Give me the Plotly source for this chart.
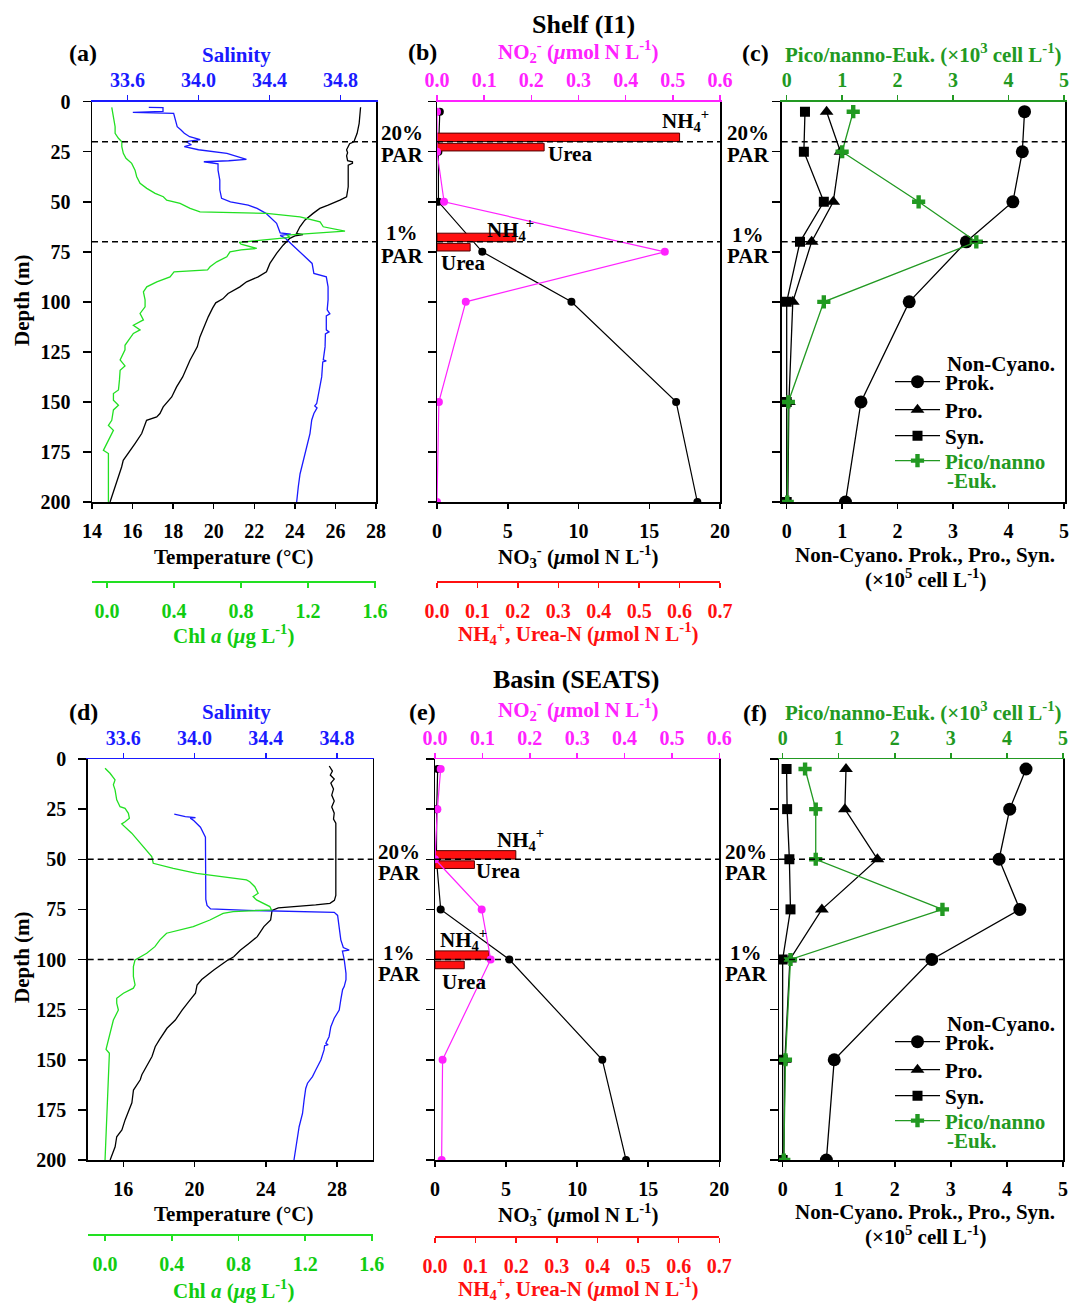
import plotly.graph_objects as go

# ===================== DATA =====================
# ---- Shelf (I1) CTD profiles ----
shelf_temp_depth = [2.8, 10.8, 15.8, 19, 20, 21, 22.5, 24, 25.5, 27, 29.5, 30, 30.8, 31.7, 36, 42.5, 47.5, 49.2,
                    51.7, 53.3, 55.8, 59.2, 62.5, 65.8, 66.4, 67, 68.3, 71.7, 75.8, 80.8, 85, 87.5, 90, 92.5, 95.8,
                    98.5, 100.5, 103, 107.5, 112.5, 117.5, 122.5, 129.2, 137.5, 142.5, 147.5, 152.5, 155.8, 157.5,
                    159.2, 162.5, 165.8, 170.8, 175.8, 179.2, 182.5, 187.5, 192.5, 197.5, 200]
shelf_temp = [27.24, 27.17, 27.07, 26.95, 26.91, 26.70, 26.63, 26.55, 26.60, 26.55, 26.60, 26.84, 26.84, 26.63,
              26.63, 26.63, 26.55, 26.22, 25.64, 25.23, 24.90, 24.49, 24.25, 24.08, 24.40, 24.00, 23.75, 23.42,
              23.10, 22.77, 22.60, 22.19, 21.62, 21.29, 20.71, 20.45, 20.10, 19.95, 19.73, 19.52, 19.32, 19.19,
              18.83, 18.47, 18.17, 17.93, 17.51, 17.35, 17.19, 16.69, 16.56, 16.45, 16.12, 15.79, 15.54, 15.46,
              15.30, 15.13, 14.97, 14.89]

shelf_sal_depth = [2.8, 3.0, 4.8, 5.3, 5.8, 9.2, 12.5, 14, 15.8, 17.5, 19, 20, 21.5, 22.5, 24, 25.8, 27.5, 28.8,
                   29.5, 30, 31, 34.2, 39.2, 44, 48.3, 50, 51.7, 53.3, 55.8, 57.5, 60.8, 65.5, 66.2, 66.8, 68.3,
                   70.8, 73.3, 77.5, 80.8, 85.8, 87.5, 92.5, 99, 104, 106, 107, 114, 115, 116, 122.5, 129, 129.5,
                   130, 137.5, 144, 150.8, 152, 153, 155.8, 159, 165.8, 172.5, 179, 186, 192.5, 200]
shelf_sal = [33.72, 33.80, 33.80, 33.63, 33.86, 33.87, 33.88, 33.90, 33.92, 33.95, 34.01, 33.93, 33.96, 33.92,
             34.00, 34.16, 34.22, 34.27, 34.17, 34.03, 34.11, 34.11, 34.12, 34.12, 34.13, 34.18, 34.28, 34.33,
             34.38, 34.40, 34.44, 34.46, 34.52, 34.46, 34.49, 34.52, 34.55, 34.60, 34.64, 34.65, 34.72, 34.73,
             34.73, 34.725, 34.74, 34.72, 34.72, 34.735, 34.715, 34.713, 34.703, 34.72, 34.70, 34.694, 34.681,
             34.666, 34.655, 34.668, 34.65, 34.638, 34.628, 34.609, 34.59, 34.572, 34.562, 34.553]

shelf_chl_depth = [2.8, 5.8, 9.2, 12.5, 15.8, 18.3, 20, 22.5, 25.8, 28.3, 30.8, 34.2, 37.5, 40.8, 43.3, 45.8, 47.5,
                   49.2, 50.8, 53.3, 55, 55.8, 57.5, 60, 62.5, 64.7, 66.7, 67.8, 70.3, 71.2, 73.3, 74, 75, 77.5, 80,
                   82.5, 84, 85, 87.5, 90, 92.5, 95, 99, 102.5, 105.8, 109, 111.7, 114, 115.8, 119, 121.7, 124, 127,
                   129, 132, 134.2, 139, 144, 145.8, 149.2, 151.7, 154, 159.2, 161.7, 164.2, 169.2, 174.2, 175.8, 200]
shelf_chl = [0.028, 0.034, 0.038, 0.048, 0.048, 0.068, 0.088, 0.088, 0.097, 0.113, 0.147, 0.167, 0.177, 0.197,
             0.237, 0.287, 0.336, 0.356, 0.436, 0.496, 0.555, 0.953, 1.152, 1.272, 1.291, 1.421, 1.073, 1.093, 0.79,
             0.80, 0.894, 0.80, 0.734, 0.715, 0.655, 0.615, 0.60, 0.40, 0.376, 0.297, 0.237, 0.217, 0.227, 0.227,
             0.197, 0.217, 0.157, 0.197, 0.157, 0.127, 0.107, 0.107, 0.088, 0.078, 0.107, 0.078, 0.074, 0.068,
             0.038, 0.038, 0.068, 0.038, 0.028, 0.008, 0.038, 0.008, -0.022, 0.008, 0.008]

# ---- Basin (SEATS) CTD profiles ----
basin_temp_depth = [3.5, 6, 8, 10, 12, 15, 18, 21, 24, 27, 30, 32, 40, 50, 60, 68, 70.5, 72, 72.8, 73.6, 74.3, 75.5,
                    80.3, 83.6, 88.6, 92, 95.3, 98.6, 100.5, 105.2, 110, 112.7, 116.8, 120, 125.2, 130.2, 134.3,
                    140, 143.5, 148.4, 153.4, 157.5, 160, 163.5, 165.1, 171.5, 177.6, 180, 185, 188.4, 193.4, 200]
basin_temp = [27.56, 27.74, 27.62, 27.84, 27.65, 27.80, 27.70, 27.84, 27.70, 27.84, 27.80, 27.93, 27.93, 27.93,
              27.93, 27.93, 27.85, 27.60, 26.80, 25.50, 24.70, 24.35, 24.27, 23.89, 23.52, 23.05, 22.58, 22.20,
              21.83, 21.08, 20.40, 20.14, 20.05, 19.76, 19.30, 18.92, 18.45, 18.03, 17.79, 17.61, 17.32, 17.04,
              16.95, 16.66, 16.57, 16.48, 16.20, 16.10, 15.92, 15.63, 15.54, 15.26]

basin_sal_depth = [27.5, 28.7, 29.2, 29.5, 30.7, 34, 39, 50, 60, 70, 73, 74.8, 75.5, 76, 76.5, 78, 83.6, 90.2, 94,
                   95.3, 95.8, 100, 106.9, 110, 113.5, 115, 120, 125.2, 129.3, 133.5, 138.5, 141.8, 142.5, 143,
                   145.1, 150.1, 155, 158.4, 161.7, 164.3, 170, 176.8, 183.4, 188.4, 193.4, 200]
basin_sal = [33.886, 33.948, 34.005, 33.976, 33.995, 34.033, 34.061, 34.061, 34.061, 34.063, 34.07, 34.09, 34.30,
             34.60, 34.784, 34.803, 34.812, 34.821, 34.835, 34.868, 34.83, 34.84, 34.85, 34.85, 34.84, 34.831,
             34.821, 34.812, 34.784, 34.765, 34.755, 34.737, 34.75, 34.73, 34.727, 34.709, 34.681, 34.662, 34.634,
             34.624, 34.615, 34.606, 34.587, 34.577, 34.568, 34.558]

basin_chl_depth = [4.6, 7.1, 10.4, 12.9, 15.4, 20.4, 23.8, 24.6, 27.1, 29.6, 31.3, 32.4, 37, 43.7, 48.7, 52, 54.5,
                   57, 60.3, 61.2, 63.7, 67, 68.6, 70.3, 73.6, 75.3, 76.1, 77, 80.3, 83.6, 86.9, 90.2, 93.6, 96.9,
                   100.2, 103.5, 108.5, 112.7, 114.3, 116.8, 119.3, 121.8, 125.2, 130.2, 136.8, 143.5, 144.8,
                   146.8, 200]
basin_chl = [0.0, 0.03, 0.06, 0.05, 0.06, 0.07, 0.09, 0.12, 0.14, 0.146, 0.12, 0.10, 0.16, 0.229, 0.28, 0.289,
             0.409, 0.549, 0.848, 0.868, 0.898, 0.918, 0.888, 0.908, 0.988, 0.998, 0.768, 0.708, 0.629, 0.529,
             0.369, 0.329, 0.299, 0.25, 0.18, 0.17, 0.17, 0.18, 0.17, 0.11, 0.07, 0.07, 0.08, 0.05, 0.03, 0.014,
             0.006, 0.026, 0.0]

# ---- Nutrients ----
shelf_nut_depth = [5, 25, 50, 75, 100, 150, 200]
shelf_no3 = [0.2, 0.1, 0.1, 3.2, 9.5, 16.9, 18.4]
shelf_no2 = [0.0, 0.0, 0.015, 0.483, 0.061, 0.004, 0.0]
basin_nut_depth = [5, 25, 50, 75, 100, 150, 200]
basin_no3 = [0.19, 0.12, 0.1, 0.4, 5.23, 11.77, 13.44]
basin_no2 = [0.012, 0.005, 0.0, 0.0985, 0.1175, 0.016, 0.014]

# PAR depths (20 %, 1 %) and NH4+ / urea-N at those depths
shelf_par_depth = [20, 70]
shelf_nh4 = [0.60, 0.195]
shelf_urea = [0.265, 0.082]
basin_par_depth = [50, 100]
basin_nh4 = [0.199, 0.133]
basin_urea = [0.097, 0.072]
par_labels = ["20%", "1%"]

# ---- Cell abundances ----
shelf_cell_depth = [5, 25, 50, 70, 100, 150, 200]
shelf_prok = [4.29, 4.25, 4.08, 3.24, 2.21, 1.34, 1.06]
shelf_pro = [0.72, 0.97, 0.84, 0.45, 0.11, 0.04, 0.02]
shelf_syn = [0.33, 0.31, 0.67, 0.24, 0.0, 0.0, 0.0]
shelf_euk = [1.2, 1.0, 2.38, 3.42, 0.67, 0.03, 0.01]
basin_cell_depth = [5, 25, 50, 75, 100, 150, 200]
basin_prok = [4.34, 4.05, 3.86, 4.23, 2.66, 0.92, 0.78]
basin_pro = [1.13, 1.11, 1.69, 0.70, 0.13, 0.04, 0.02]
basin_syn = [0.07, 0.08, 0.12, 0.14, 0.0, 0.0, 0.0]
basin_euk = [0.40, 0.59, 0.59, 2.85, 0.14, 0.05, 0.02]

# ---- tick values / labels ----
depth_ticks = [0, 25, 50, 75, 100, 125, 150, 175, 200]
sal_ticks = [33.6, 34.0, 34.4, 34.8]
sal_ticktext = ["33.6", "34.0", "34.4", "34.8"]
temp_ticks_shelf = [14, 16, 18, 20, 22, 24, 26, 28]
temp_ticks_basin = [16, 20, 24, 28]
chl_ticks = [0.0, 0.4, 0.8, 1.2, 1.6]
chl_ticktext = ["0.0", "0.4", "0.8", "1.2", "1.6"]
no2_ticks = [0.0, 0.1, 0.2, 0.3, 0.4, 0.5, 0.6]
no2_ticktext = ["0.0", "0.1", "0.2", "0.3", "0.4", "0.5", "0.6"]
no3_ticks = [0, 5, 10, 15, 20]
nh4_ticks = [0.0, 0.1, 0.2, 0.3, 0.4, 0.5, 0.6, 0.7]
nh4_ticktext = ["0.0", "0.1", "0.2", "0.3", "0.4", "0.5", "0.6", "0.7"]
cell_ticks = [0, 1, 2, 3, 4, 5]

# ===================== STYLE / LAYOUT =====================
W, H = 1070, 1304
def px(v): return v / W
def py(v): return 1 - v / H

FONT = "Liberation Serif"
BLUE = "#1a1aff"
LGREEN = "#22e022"
LGREEN_T = "#11cc11"
MAG = "#ff22ff"
RED = "#ff1010"
DGREEN = "#229922"
TICK = 20
TITLE = 21

def tf(color, size=TICK):
    return dict(family=FONT, size=size, color=color, weight="bold")

# panel boxes (left, right, top, bottom) in page pixels
PA = (92, 376, 101.7, 502)
PB = (437, 720, 101.7, 502)
PC = (781.7, 1065, 101.7, 502)
PD = (87.7, 372.7, 759, 1160)
PE = (435, 719.3, 759, 1160)
PF = (779, 1063, 759, 1160)

COMMON = dict(showgrid=False, zeroline=False, automargin=False, fixedrange=True)

def yax(box, anchor, labels):
    return dict(domain=[py(box[3]), py(box[2])], range=[200, 0], anchor=anchor,
                tickvals=depth_ticks, ticks="outside", ticklen=8, tickwidth=1.5, tickcolor="black",
                showline=True, linecolor="black", linewidth=1.5, mirror=True,
                showticklabels=labels, tickfont=tf("black"), ticklabelstandoff=8, **COMMON)

def xbot(box, rng, tv, tt, anchor):
    return dict(domain=[px(box[0]), px(box[1])], range=rng, anchor=anchor, side="bottom",
                tickvals=tv, ticktext=tt, ticks="outside", ticklen=5, tickwidth=1.5, tickcolor="black",
                showline=True, linecolor="black", linewidth=1.5,
                tickfont=tf("black"), ticklabelstandoff=5, **COMMON)

def xtop(over, anchor, rng, tv, tt, color, tcolor=None):
    return dict(overlaying=over, anchor=anchor, side="top", range=rng, tickvals=tv, ticktext=tt,
                ticks="outside", ticklen=5, tickwidth=1.5, tickcolor=color, showline=True, linecolor=color,
                linewidth=1.5, tickfont=tf(tcolor or color), ticklabelstandoff=0, **COMMON)

def xfree(over, pos, rng, tv, tt, color, tcolor=None):
    return dict(overlaying=over, anchor="free", position=pos, side="bottom", range=rng, tickvals=tv,
                ticktext=tt, ticks="outside", ticklen=5, tickwidth=1.5, tickcolor=color, showline=True,
                linecolor=color, linewidth=1.5, tickfont=tf(tcolor or color), ticklabelstandoff=6, **COMMON)

def legend_box(center):
    return dict(x=px(890), y=py(center), xanchor="left", yanchor="middle", bgcolor="rgba(0,0,0,0)",
                font=tf("black", 21), itemwidth=45, borderwidth=0)

layout = dict(
    template="none",
    width=W, height=H, autosize=False, margin=dict(l=0, r=0, t=0, b=0, pad=0),
    paper_bgcolor="white", plot_bgcolor="rgba(0,0,0,0)", barmode="overlay", hovermode=False,
    # panel a
    xaxis=xbot(PA, [14, 28], temp_ticks_shelf, None, "y"),
    xaxis2=xtop("x", "y", [33.4, 35.0], sal_ticks, sal_ticktext, BLUE),
    xaxis3=xfree("x", py(581), [-0.09, 1.606], chl_ticks, chl_ticktext, LGREEN, LGREEN_T),
    yaxis=yax(PA, "x", True),
    # panel b
    xaxis4=xbot(PB, [0, 20], no3_ticks, None, "y2"),
    xaxis5=xfree("x4", py(581), [0, 0.7], nh4_ticks, nh4_ticktext, RED),
    xaxis6=xtop("x4", "y2", [0, 0.6], no2_ticks, no2_ticktext, MAG),
    yaxis2=yax(PB, "x4", False),
    # panel c
    xaxis7=xbot(PC, [-0.09, 5.02], cell_ticks, None, "y3"),
    xaxis8=xtop("x7", "y3", [-0.09, 5.02], cell_ticks, None, DGREEN),
    yaxis3=yax(PC, "x7", False),
    # panel d
    xaxis9=xbot(PD, [14, 30], temp_ticks_basin, None, "y4"),
    xaxis10=xtop("x9", "y4", [33.4, 35.0], sal_ticks, sal_ticktext, BLUE),
    xaxis11=xfree("x9", py(1234), [-0.104, 1.605], chl_ticks, chl_ticktext, LGREEN, LGREEN_T),
    yaxis4=yax(PD, "x9", True),
    # panel e
    xaxis12=xbot(PE, [0, 20], no3_ticks, None, "y5"),
    xaxis13=xfree("x12", py(1236), [0, 0.7], nh4_ticks, nh4_ticktext, RED),
    xaxis14=xtop("x12", "y5", [0, 0.6], no2_ticks, no2_ticktext, MAG),
    yaxis5=yax(PE, "x12", False),
    # panel f
    xaxis15=xbot(PF, [-0.065, 5.0], cell_ticks, None, "y6"),
    xaxis16=xtop("x15", "y6", [-0.065, 5.0], cell_ticks, None, DGREEN),
    yaxis6=yax(PF, "x15", False),
)

# one legend per entry so that each row can be placed like the original
legend_rows = [382, 410, 436, 461]
legend_ids = []
for p, dy in enumerate([0, 660]):
    ids = []
    for r, yc in enumerate(legend_rows):
        k = 1 + p * 4 + r
        name = "legend" if k == 1 else "legend%d" % k
        layout[name] = legend_box(yc + dy)
        ids.append(name)
    legend_ids.append(ids)

fig = go.Figure()

# ---- CTD panels ----
for (tdep, t, sdep, s, cdep, c, xt, xs, xc, ya) in [
        (shelf_temp_depth, shelf_temp, shelf_sal_depth, shelf_sal, shelf_chl_depth, shelf_chl, "x", "x2", "x3", "y"),
        (basin_temp_depth, basin_temp, basin_sal_depth, basin_sal, basin_chl_depth, basin_chl, "x9", "x10", "x11", "y4")]:
    fig.add_trace(go.Scatter(x=c, y=cdep, xaxis=xc, yaxis=ya, mode="lines",
                             line=dict(color=LGREEN, width=1.3), showlegend=False))
    fig.add_trace(go.Scatter(x=t, y=tdep, xaxis=xt, yaxis=ya, mode="lines",
                             line=dict(color="black", width=1.3), showlegend=False))
    fig.add_trace(go.Scatter(x=s, y=sdep, xaxis=xs, yaxis=ya, mode="lines",
                             line=dict(color=BLUE, width=1.3), showlegend=False))

# ---- Nutrient panels ----
for (ndep, no3, no2, pard, nh4, urea, x3a, xba, x2a, ya) in [
        (shelf_nut_depth, shelf_no3, shelf_no2, shelf_par_depth, shelf_nh4, shelf_urea, "x4", "x5", "x6", "y2"),
        (basin_nut_depth, basin_no3, basin_no2, basin_par_depth, basin_nh4, basin_urea, "x12", "x13", "x14", "y5")]:
    fig.add_trace(go.Scatter(x=no3, y=ndep, xaxis=x3a, yaxis=ya, mode="lines+markers",
                             line=dict(color="black", width=1.2), marker=dict(color="black", size=8),
                             showlegend=False))
    fig.add_trace(go.Bar(x=nh4, y=[d - 2.2 for d in pard], width=4.2, orientation="h", xaxis=xba, yaxis=ya,
                         marker=dict(color=RED, line=dict(color="#500000", width=1)), showlegend=False))
    fig.add_trace(go.Bar(x=urea, y=[d + 2.7 for d in pard], width=3.8, orientation="h", xaxis=xba, yaxis=ya,
                         marker=dict(color=RED, line=dict(color="#500000", width=1)), showlegend=False))
    fig.add_trace(go.Scatter(x=no2, y=ndep, xaxis=x2a, yaxis=ya, mode="lines+markers",
                             line=dict(color=MAG, width=1.2), marker=dict(color=MAG, size=8),
                             showlegend=False))

# ---- Cell panels ----
for (cdep, prok, pro, syn, euk, xb, xtp, ya, lg) in [
        (shelf_cell_depth, shelf_prok, shelf_pro, shelf_syn, shelf_euk, "x7", "x8", "y3", legend_ids[0]),
        (basin_cell_depth, basin_prok, basin_pro, basin_syn, basin_euk, "x15", "x16", "y6", legend_ids[1])]:
    fig.add_trace(go.Scatter(x=prok, y=cdep, xaxis=xb, yaxis=ya, mode="lines+markers", name="Prok.",
                             line=dict(color="black", width=1.3), marker=dict(symbol="circle", size=13, color="black"),
                             legend=lg[0], showlegend=True))
    fig.add_trace(go.Scatter(x=pro, y=cdep, xaxis=xb, yaxis=ya, mode="lines+markers", name="Pro.",
                             line=dict(color="black", width=1.3),
                             marker=dict(symbol="triangle-up", size=12, color="black"),
                             legend=lg[1], showlegend=True))
    fig.add_trace(go.Scatter(x=syn, y=cdep, xaxis=xb, yaxis=ya, mode="lines+markers", name="Syn.",
                             line=dict(color="black", width=1.3), marker=dict(symbol="square", size=10, color="black"),
                             legend=lg[2], showlegend=True))
    fig.add_trace(go.Scatter(x=euk, y=cdep, xaxis=xtp, yaxis=ya, mode="lines+markers",
                             name="<span style='color:%s'>Pico/nanno</span>" % DGREEN,
                             line=dict(color=DGREEN, width=1.3), marker=dict(symbol="cross", size=11, color=DGREEN),
                             legend=lg[3], showlegend=True))

# ---- dashed PAR lines ----
shapes = []
for xr, yr, deps in [("x", "y", shelf_par_depth), ("x4", "y2", shelf_par_depth), ("x7", "y3", shelf_par_depth),
                     ("x9", "y4", basin_par_depth), ("x12", "y5", basin_par_depth), ("x15", "y6", basin_par_depth)]:
    for d in deps:
        shapes.append(dict(type="line", xref=xr + " domain", yref=yr, x0=0, x1=1, y0=d, y1=d, layer="above",
                           line=dict(color="black", width=1.6, dash="6px,4px")))
layout["shapes"] = shapes

# ---- text ----
anns = []
def ann(text, x, y, size=TITLE, color="black", xanchor="center", yanchor="middle", angle=0):
    anns.append(dict(text=text, x=px(x), y=py(y), xref="paper", yref="paper", showarrow=False,
                     font=tf(color, size), xanchor=xanchor, yanchor=yanchor, textangle=angle))

MU = "<i>\u03bc</i>"
ann("Shelf (I1)", 583, 24, size=26)
ann("Basin (SEATS)", 576, 679, size=26)
# panel letters
for lab, x, y in [("(a)", 83, 53), ("(b)", 422, 52), ("(c)", 755, 53),
                  ("(d)", 83.5, 712), ("(e)", 422, 712), ("(f)", 755, 713)]:
    ann(lab, x, y, size=24)
for i, dy in enumerate([0, 657]):
    ann("Salinity", 236, 55 + dy, color=BLUE)
    ann("NO<sub>2</sub><sup>-</sup> (" + MU + "mol N L<sup>-1</sup>)", 578, 52 + dy, color=MAG)
    ann("Pico/nanno-Euk. (\u00d710<sup>3</sup> cell L<sup>-1</sup>)", 923, 54 + dy, color=DGREEN)
    ann("Temperature (\u00b0C)", 233, 557 + dy)
    ann("NO<sub>3</sub><sup>-</sup> (" + MU + "mol N L<sup>-1</sup>)", 578, 557 + dy)
    ann("Non-Cyano. Prok., Pro., Syn.", 925, 555 + dy)
    ann("(\u00d710<sup>5</sup> cell L<sup>-1</sup>)", 925, 578 + dy)
    ann("Chl <i>a</i> (" + MU + "g L<sup>-1</sup>)", 233, 634 + dy - 2 * i, color=LGREEN_T)
    ann("NH<sub>4</sub><sup>+</sup>, Urea-N (" + MU + "mol N L<sup>-1</sup>)", 578, 633 + dy - 2 * i, color=RED)
    ann("Depth (m)", 22, 300 + dy, angle=-90)
    # extra legend text lines (first line of "Non-Cyano. Prok.", second line of "Pico/nanno -Euk.")
    ann("Non-Cyano.", 945, 364 + 660 * i, xanchor="left")
    ann("-Euk.", 945, 481 + 660 * i, color=DGREEN, xanchor="left")

# PAR labels
for (x, pos) in [(402, [(133, 155), (233, 256)]), (748, [(133, 155), (235, 256)]),
                 (399, [(852, 873), (953, 974)]), (746, [(852, 873), (953, 974)])]:
    for lab, (y1, y2) in zip(par_labels, pos):
        ann(lab, x, y1)
        ann("PAR", x, y2)

# bar labels
NH4T = "NH<sub>4</sub><sup>+</sup>"
ann(NH4T, 685, 121)
ann("Urea", 570, 154)
ann(NH4T, 510, 230)
ann("Urea", 463, 263)
ann(NH4T, 520, 839)
ann("Urea", 498, 871)
ann(NH4T, 463, 940)
ann("Urea", 464, 982)

layout["annotations"] = anns
fig.update_layout(**layout)
# remove the default page margin so the 1070x1304 figure fills the window exactly
fig.write_html("out.html",
               config={"displayModeBar": False, "staticPlot": True},
               post_script="document.body.style.margin='0px';"
                           "document.documentElement.style.overflow='hidden';"
                           "document.body.style.overflow='hidden';")
